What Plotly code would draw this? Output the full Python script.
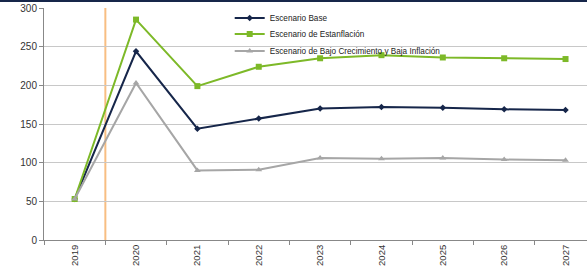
import plotly.graph_objects as go

years = ["2019", "2020", "2021", "2022", "2023", "2024", "2025", "2026", "2027"]
base = [53, 244, 144, 157, 170, 172, 171, 169, 168]
estanflacion = [53, 285, 199, 224, 235, 239, 236, 235, 234]
bajo = [53, 203, 90, 91, 106, 105, 106, 104, 103]

names = ["Escenario Base", "Escenario de Estanflación",
         "Escenario de Bajo Crecimiento y Baja Inflación"]
y_ticks = [0, 50, 100, 150, 200, 250, 300]

FONT = "Liberation Sans, Arial"
colors = ["#16264A", "#7DB928", "#A6A6A6"]
symbols = ["diamond", "square", "triangle-up"]
sizes = [5, 6, 6]
series = [base, estanflacion, bajo]
legends = ["legend", "legend2", "legend3"]

fig = go.Figure()
for s, n, c, sym, sz, lg in zip(series, names, colors, symbols, sizes, legends):
    fig.add_trace(go.Scatter(x=years, y=s, name=n, mode="lines+markers",
                             line=dict(color=c, width=2), legend=lg,
                             marker=dict(symbol=sym, size=sz, color=c)))

# orange vertical divider between 2019 and 2020
fig.add_shape(type="line", xref="x", yref="paper", x0=0.5, x1=0.5, y0=0, y1=1,
              line=dict(color="#F8BE82", width=2), layer="below")

T, B, L = 8, 32, 44
PH = 272 - T - B
# dark top rule
fig.add_shape(type="line", xref="paper", yref="paper", x0=-0.1, x1=1.1,
              y0=1 + (T - 1) / PH, y1=1 + (T - 1) / PH, line=dict(color="#16264A", width=2))

legend_rows_px = [18, 34, 51]
leg_common = dict(x=0.342, xanchor="left", yanchor="middle",
                  bgcolor="rgba(255,255,255,0)", font=dict(family=FONT, size=8.2, color="#222222"),
                  itemwidth=30, borderwidth=0)
leg_cfg = {}
for lg, py in zip(legends, legend_rows_px):
    d = dict(leg_common)
    d["y"] = 1 - (py - T) / PH
    leg_cfg[lg] = d

fig.update_layout(
    width=587, height=272,
    margin=dict(l=L, r=0, t=T, b=B),
    paper_bgcolor="white", plot_bgcolor="white",
    font=dict(family=FONT, size=10, color="#222222"),
    showlegend=True,
    xaxis=dict(type="category", range=[-0.5, 8.35], showgrid=False, automargin=False,
               showline=True, linecolor="#888888", linewidth=1,
               ticks="outside", tickson="boundaries", ticklen=4, tickcolor="#888888",
               tickangle=-90, tickfont=dict(family=FONT, size=9.5, color="#333333")),
    yaxis=dict(range=[0, 300], tickvals=y_ticks, showgrid=True, gridcolor="#C8C8C8",
               gridwidth=1, showline=True, linecolor="#888888", linewidth=1, automargin=False,
               ticks="outside", ticklen=4, tickcolor="#888888", zeroline=False,
               tickfont=dict(family=FONT, size=10, color="#333333")),
    **leg_cfg,
)

fig.write_html("out.html", config={"displayModeBar": False},
               post_script="document.body.style.margin='0';")
